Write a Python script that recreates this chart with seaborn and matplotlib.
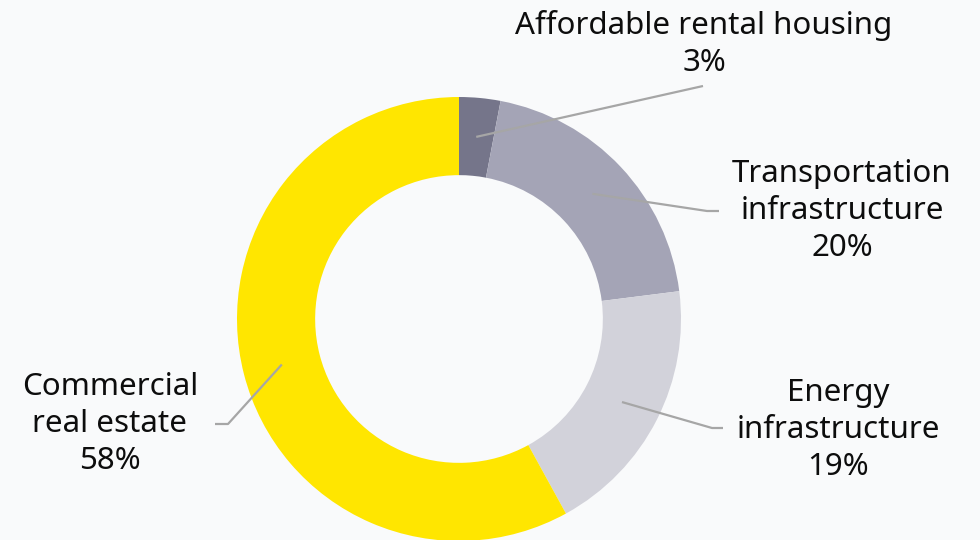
import numpy as np
import matplotlib
matplotlib.use("Agg")
import matplotlib.pyplot as plt
import seaborn as sns

# === Data ===
categories = ["Affordable rental housing", "Transportation\ninfrastructure",
              "Energy\ninfrastructure", "Commercial\nreal estate"]
shares = [3, 20, 19, 58]
colors = ["#75758a", "#a4a4b6", "#d2d2da", "#ffe600"]

# label block centres and leader elbows (pixels, layout only)
label_xy = [(704, 44), (842, 211), (838, 430), (110, 424)]
elbow_xy = [(703, 86), (707, 211), (712, 428), (228, 424)]
tail_xy = [(703, 86), (719, 211), (723, 428), (215, 424)]

# === Style ===
sns.set_theme(style="white")
plt.rcParams["font.family"] = ["Noto Sans", "DejaVu Sans"]
bg = "#f9fafb"

W, H = 980, 540
cx, cy, R = 459, 319, 222

fig = plt.figure(figsize=(9.8, 5.4), dpi=100, facecolor=bg)
ax = fig.add_axes([0, 0, 1, 1])
ax.set_facecolor(bg)

ring = 0.352
ax.pie(shares, colors=colors, startangle=90, counterclock=False, radius=1,
       wedgeprops=dict(width=ring, linewidth=0))

# pie() resets limits, so fix the view afterwards
ax.set_xlim(-cx / R, (W - cx) / R)
ax.set_ylim(-(H - cy) / R, cy / R)
ax.set_aspect("equal")
ax.axis("off")


def to_data(p):
    return ((p[0] - cx) / R, (cy - p[1]) / R)


# === Labels with leader lines ===
total = sum(shares)
cum = 0
for name, val, lxy, exy, txy in zip(categories, shares, label_xy, elbow_xy, tail_xy):
    mid = (cum + val / 2) / total * 360
    cum += val
    theta = np.deg2rad(90 - mid)
    r = 1 - ring / 2
    start = (r * np.cos(theta), r * np.sin(theta))
    e = to_data(exy)
    t = to_data(txy)
    ax.plot([start[0], e[0], t[0]], [start[1], e[1], t[1]],
            color="#a6a6a6", lw=1.6, solid_capstyle="butt", zorder=3)
    lx, ly = to_data(lxy)
    ax.text(lx, ly, f"{name}\n{val}%", ha="center", va="center",
            fontsize=22.5, color="#0d0d0d", linespacing=1.3)

fig.savefig("out.png", dpi=100, facecolor=bg)
